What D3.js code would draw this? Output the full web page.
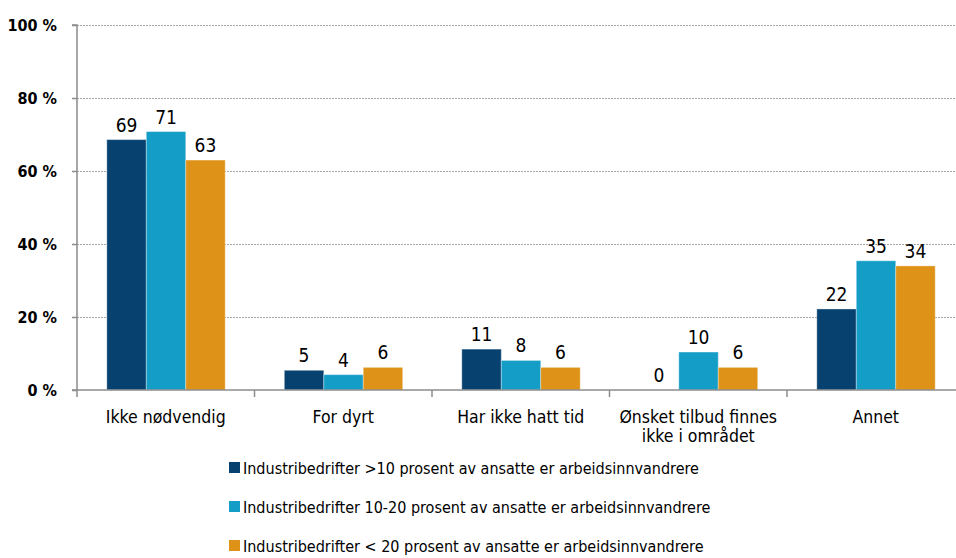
<!DOCTYPE html>
<html><head><meta charset="utf-8">
<script src="https://cdn.jsdelivr.net/npm/d3@7"></script>
<style>
html,body{margin:0;padding:0;background:#fff;}
svg{display:block;}
text{font-family:"DejaVu Sans Condensed","Liberation Sans Narrow",sans-serif;fill:#000;}
</style></head>
<body>
<svg id="chart" width="956" height="558"></svg>
<script>
const categories = ["Ikke nødvendig", "For dyrt", "Har ikke hatt tid", "Ønsket tilbud finnes\nikke i området", "Annet"];
const seriesNames = [
  "Industribedrifter >10 prosent av ansatte er arbeidsinnvandrere",
  "Industribedrifter 10-20 prosent av ansatte er arbeidsinnvandrere",
  "Industribedrifter < 20 prosent av ansatte er arbeidsinnvandrere"
];
const seriesColors = ["#07416F", "#149DC7", "#DE9318"];
const s1 = [68.6, 5.4, 11.2, 0, 22.2];
const s2 = [70.8, 4.2, 8.1, 10.4, 35.4];
const s3 = [63.0, 6.2, 6.2, 6.2, 34.0];
const seriesValues = [s1, s2, s3];
const yTicks = [0, 20, 40, 60, 80, 100];

(function () {
const svg = d3.select("#chart");
const mLeft = 77, mBottom = 390, mTop = 25;
const band = 177.5;
const x0 = d3.scaleBand().domain(categories).range([mLeft, mLeft + band * categories.length]);
const x1 = d3.scaleBand().domain(d3.range(seriesNames.length)).range([band * 0.168, band * 0.835]);
const y = d3.scaleLinear().domain([0, 100]).range([mBottom, mTop]);

// gridlines
svg.append("g").selectAll("line").data(yTicks.filter(d => d > 0)).join("line")
  .attr("x1", mLeft).attr("x2", 956)
  .attr("y1", d => y(d) + 0.5).attr("y2", d => y(d) + 0.5)
  .attr("stroke", "#a6a6a6").attr("stroke-width", 1).attr("stroke-dasharray", "2,1");

// bars
const groups = svg.append("g").selectAll("g").data(categories).join("g")
  .attr("transform", d => `translate(${x0(d)},0)`);
groups.each(function (cat, ci) {
  const g = d3.select(this);
  seriesValues.forEach((vals, si) => {
    const v = vals[ci];
    if (v > 0) {
      g.append("rect")
        .attr("x", x1(si)).attr("width", x1.bandwidth())
        .attr("y", y(v)).attr("height", y(0) - y(v))
        .attr("fill", seriesColors[si])
        .attr("stroke", "#ffffff").attr("stroke-opacity", 0.35).attr("stroke-width", 1);
    }
    g.append("text")
      .attr("x", x1(si) + x1.bandwidth() / 2)
      .attr("y", y(v) - 8)
      .attr("text-anchor", "middle")
      .style("font-size", "19px")
      .text(Math.round(v));
  });
});

// y axis
const yAxis = d3.axisLeft(y).tickValues(yTicks).tickSize(5).tickPadding(15).tickFormat(d => d + " %");
const ya = svg.append("g").attr("transform", `translate(${mLeft},0)`).call(yAxis);
ya.select(".domain").attr("stroke", "#8c8c8c").attr("stroke-width", 1.5).attr("d", `M-5,${mTop}H0V${mBottom + 7}`);
ya.selectAll(".tick line").attr("stroke", "#8c8c8c").attr("stroke-width", 1.5);
ya.selectAll(".tick text").style("font-size", "16px").style("font-weight", "bold")
  .style("font-family", "'DejaVu Sans Condensed',sans-serif").attr("fill", "#000");

// x axis
const xa = svg.append("g").attr("transform", `translate(0,${mBottom})`);
xa.append("line").attr("x1", mLeft - 5).attr("x2", 956).attr("y1", 0).attr("y2", 0)
  .attr("stroke", "#8c8c8c").attr("stroke-width", 1.5);
xa.selectAll("line.sep").data(categories.slice(1)).join("line").attr("class", "sep")
  .attr("x1", d => x0(d)).attr("x2", d => x0(d)).attr("y1", 0).attr("y2", 7)
  .attr("stroke", "#8c8c8c").attr("stroke-width", 1.5);
xa.selectAll("text.cat").data(categories).join("text").attr("class", "cat")
  .attr("text-anchor", "middle")
  .attr("transform", d => `translate(${x0(d) + band / 2},33)`)
  .style("font-size", "17.5px")
  .each(function (d) {
    const t = d3.select(this);
    d.split("\n").forEach((line, i) => {
      t.append("tspan").attr("x", 0).attr("dy", i === 0 ? 0 : 19).text(line);
    });
  });

// legend
const lg = svg.append("g").selectAll("g").data(seriesNames).join("g")
  .attr("transform", (d, i) => `translate(229,${462 + i * 39})`);
lg.append("rect").attr("width", 11).attr("height", 11).attr("fill", (d, i) => seriesColors[i]);
lg.append("text").attr("x", 14).attr("y", 12).style("font-size", "16px").text(d => d);
})();
</script>
</body></html>
